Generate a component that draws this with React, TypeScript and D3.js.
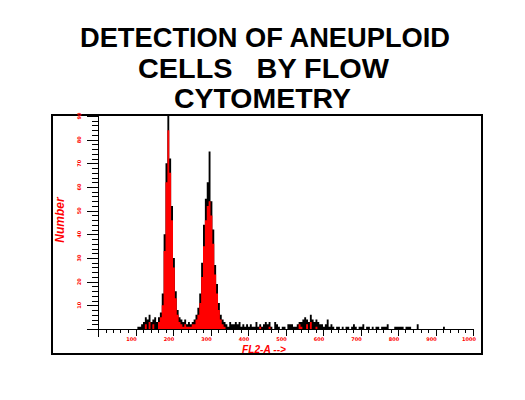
import React, { useRef, useEffect } from "react";
import * as d3 from "d3";

// histogram channels, 5 channels per bin starting at channel 100
const binStart = 100;
const binWidth = 5;

// raw counts (black)
const counts = [
  0, 1, 1, 2, 3, 5, 4, 6, 3, 4, 5, 3, 5, 7,
  15, 40, 70, 96, 72, 52, 30, 16, 8,
  5, 4, 3, 4, 2, 3, 2, 3, 4,
  6, 9, 15, 28, 44, 55, 62, 75, 54, 42, 27, 19, 11, 6, 4,
  3, 2, 1, 3, 2, 2, 3, 2, 3, 1, 2, 1, 2, 1, 2, 1, 1, 3, 1,
  2, 1, 2, 3, 2, 3, 1, 0, 3, 2, 1, 0, 1, 1, 0, 2, 2, 2, 1, 1,
  2, 3, 3, 4, 5, 4, 3, 6, 4, 3, 4, 3, 2, 2, 1, 2, 4, 1, 2, 1,
  0, 1, 1, 0, 1, 0, 1, 1, 0, 1, 2, 1, 0, 1, 1, 2, 0, 1, 1, 0,
  1, 0, 1, 1, 0, 1, 1, 1, 2, 0, 0, 0, 1, 1, 1, 1, 1, 0, 1, 1, 1, 0, 0, 0, 2,
  0, 0, 0, 0, 0, 0, 0, 0, 0, 0, 0, 0, 0, 1, 0, 0, 0, 0, 0,
];

// smoothed counts (red fill)
const smoothed = [
  0, 0, 0, 0, 0, 2, 0, 3, 0, 2, 0, 0, 3, 5,
  10, 33, 62, 84, 66, 46, 26, 13, 6,
  3, 2, 1, 2, 1, 1, 1, 2, 2,
  4, 6, 11, 22, 35, 46, 52, 54, 48, 36, 23, 15, 8, 4, 2,
  1, 0, 0, 0, 0, 0, 0, 0, 0, 0, 0, 0, 0, 0, 0, 0, 0, 0, 0,
  1, 0, 0, 0, 0, 1, 0, 0, 0, 0, 0, 0, 0, 0, 0, 0, 0, 0, 0, 0,
  0, 2, 1, 0, 0, 2, 0, 3, 0, 0, 1, 0, 0, 0, 0, 0, 0, 0, 0, 0,
  0, 0, 0, 0, 0, 0, 0, 0, 0, 0, 0, 0, 0, 0, 0, 0, 0, 0, 0, 0,
  0, 0, 0, 0, 0, 0, 0, 0, 0, 0, 0, 0, 0, 0, 0, 0, 0, 0, 0, 0, 0, 0, 0, 0, 0,
  0, 0, 0, 0, 0, 0, 0, 0, 0, 0, 0, 0, 0, 0, 0, 0, 0, 0, 0,
];

const xTicks = [100, 200, 300, 400, 500, 600, 700, 800, 900, 1000];
const yTicks = [10, 20, 30, 40, 50, 60, 70, 80, 90];
const titleLines = ["DETECTION OF ANEUPLOID", "CELLS   BY FLOW", "CYTOMETRY"];

const App = () => {
  const svgRef = useRef(null);

  useEffect(() => {
    const svg = d3.select(svgRef.current);
    svg.selectAll("*").remove();

    const left = 98, right = 473, top = 116, bottom = 329;

    const x = d3.scaleLinear().domain([0, 1000]).range([left, right]);
    const y = d3.scaleLinear().domain([0, 90]).range([bottom, top]);

    // title
    const titleSpec = [
      { cx: 265, by: 47, w: 370 },
      { cx: 263.5, by: 78, w: 251 },
      { cx: 262.5, by: 108, w: 177 },
    ];
    titleLines.forEach((t, i) => {
      svg.append("text")
        .attr("x", titleSpec[i].cx)
        .attr("y", titleSpec[i].by)
        .attr("text-anchor", "middle")
        .attr("xml:space", "preserve")
        .style("white-space", "pre")
        .attr("font-family", "Liberation Sans, Arial, sans-serif")
        .attr("font-weight", "bold")
        .attr("font-size", 27)
        .attr("textLength", titleSpec[i].w)
        .attr("lengthAdjust", "spacingAndGlyphs")
        .attr("fill", "#000")
        .text(t);
    });

    // frame
    svg.append("rect")
      .attr("x", 52).attr("y", 115)
      .attr("width", 430).attr("height", 239)
      .attr("fill", "none")
      .attr("stroke", "#000")
      .attr("stroke-width", 2);

    svg.append("clipPath").attr("id", "plotClip")
      .append("rect")
      .attr("x", left).attr("y", 115)
      .attr("width", 482 - left).attr("height", bottom - 115);

    const pts = (arr) => {
      const p = arr.map((v, i) => ({ c: binStart + i * binWidth, v }));
      p.push({ c: binStart + arr.length * binWidth, v: arr[arr.length - 1] });
      return p;
    };

    const area = d3.area()
      .x((d) => x(d.c))
      .y0(y(0))
      .y1((d) => y(d.v))
      .curve(d3.curveStepAfter);

    const plot = svg.append("g").attr("clip-path", "url(#plotClip)");
    plot.append("path").attr("d", area(pts(counts))).attr("fill", "#000");
    plot.append("path").attr("d", area(pts(smoothed))).attr("fill", "#ff0000");

    const g = svg.append("g")
      .attr("stroke", "#000")
      .attr("stroke-width", 1)
      .attr("shape-rendering", "crispEdges");

    // axis lines
    g.append("line").attr("x1", left + 0.5).attr("x2", left + 0.5).attr("y1", 115).attr("y2", bottom + 8);
    g.append("line").attr("x1", left - 11).attr("x2", right + 0.5).attr("y1", bottom + 0.5).attr("y2", bottom + 0.5);

    // x ticks
    const xMinor = d3.range(20, 1001, 20);
    xMinor.forEach((t) => {
      const major = t % 100 === 0;
      const px = Math.round(x(t)) + 0.5;
      g.append("line").attr("x1", px).attr("x2", px)
        .attr("y1", bottom).attr("y2", bottom + (major ? 7 : 4));
    });

    // y ticks
    const yMinor = d3.range(2, 91, 2);
    yMinor.forEach((t) => {
      const major = t % 10 === 0;
      const py = Math.round(y(t)) + 0.5;
      g.append("line").attr("x1", left - (major ? 11 : 6)).attr("x2", left)
        .attr("y1", py).attr("y2", py);
    });

    svg.selectAll(".xl").data(xTicks).enter().append("text")
      .attr("x", (d) => x(d) - 4)
      .attr("y", 341)
      .attr("text-anchor", "middle")
      .attr("font-family", "DejaVu Sans, sans-serif")
      .attr("font-size", 5)
      .attr("font-weight", "bold")
      .attr("fill", "#ff0000")
      .text((d) => d);

    svg.selectAll(".yl").data(yTicks).enter().append("text")
      .attr("transform", (d) => `rotate(-90, 81, ${y(d)})`)
      .attr("x", 81)
      .attr("y", (d) => y(d))
      .attr("text-anchor", "middle")
      .attr("font-family", "DejaVu Sans, sans-serif")
      .attr("font-size", 5)
      .attr("font-weight", "bold")
      .attr("fill", "#ff0000")
      .text((d) => d);

    // axis titles
    svg.append("text")
      .attr("transform", "rotate(-90, 64, 220)")
      .attr("x", 64).attr("y", 220)
      .attr("text-anchor", "middle")
      .attr("font-family", "Liberation Sans, Arial, sans-serif")
      .attr("font-weight", "bold")
      .attr("font-style", "italic")
      .attr("font-size", 12)
      .attr("fill", "#ff0000")
      .text("Number");

    svg.append("text")
      .attr("x", 242).attr("y", 353)
      .attr("font-family", "Liberation Sans, Arial, sans-serif")
      .attr("font-weight", "bold")
      .attr("font-style", "italic")
      .attr("font-size", 11)
      .attr("textLength", 44)
      .attr("lengthAdjust", "spacingAndGlyphs")
      .attr("fill", "#ff0000")
      .text("FL2-A -->");

    return () => {};
  }, []);

  return (
    <svg
      ref={svgRef}
      width={525}
      height={400}
      style={{ position: "absolute", left: 0, top: 0, background: "#fff" }}
    />
  );
};

export default App;
